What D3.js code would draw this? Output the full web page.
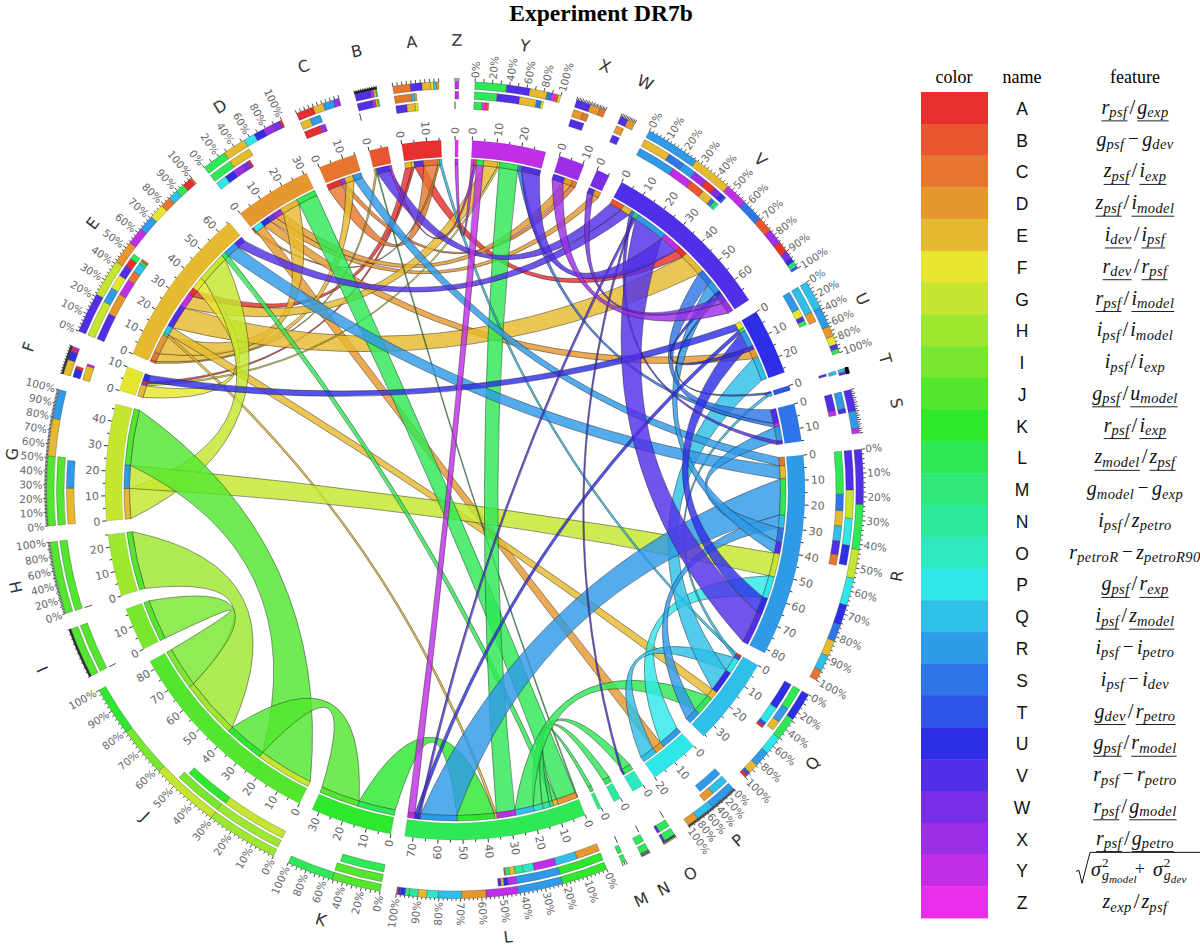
<!DOCTYPE html>
<html><head><meta charset="utf-8">
<script src="https://cdnjs.cloudflare.com/ajax/libs/d3/7.8.5/d3.min.js"></script>
<style>html,body{margin:0;padding:0;background:#fff}svg{display:block}</style></head>
<body><svg id="c" width="1200" height="946"></svg>
<script>
const sectors = "ABCDEFGHIJKLMNOPQRSTUVWXYZ".split("");
const colors = ["#e82e2e","#e8552e","#e6762e","#e6982e","#e6ba2e","#e6e62e","#c4e62e","#9ce82e","#78e82e","#52e62e","#2ee82e","#2ee856","#2ee87a","#2ee89c","#2ee8c0","#2ee8e8","#2ec0e8","#2e9ae8","#2e76e8","#2e54e8","#2e2ee8","#522ee8","#782ee8","#9c2ee8","#c02ee8","#e82ee8"];
const links = [
["A","E",3],["A","F",1],["A","V",4],
["C","A",6],["C","X",2],
["D","A",.8],["D","P",4],["D","U",3.6],["D","W",2.7],["D","X",3.5],
["E","B",.8],["E","C",3.7],["E","D",8],["E","L",1],["E","Q",3.5],["E","V",10],["E","Y",6],
["F","E",5.2],["F","Y",.8],
["G","E",13],["G","R",10],
["H","J",25],["I","J",17.5],
["J","G",24],["J","K",17],
["K","L",16],
["L","B",.4],["L","D",8.5],["L","E",2],["L","M",1.5],["L","N",3],["L","O",4],["L","Q",8],["L","Y",8],
["P","R",9.5],
["Q","A",1],["Q","T",1.2],["Q","P",6.5],["Q","U",10],
["R","C",3.7],["R","E",5.5],["R","L",15.5],["R","Q",5.5],["R","S",6],["R","V",5],
["S","V",6],["S","Y",1.7],
["T","V",.8],
["U","F",3],["U","L",1.5],["U","R",7],["U","V",1.6],
["V","B",5.5],["V","E",4],["V","S",1.5],["V","O",.8],["V","L",1],["V","R",14],["V","Y",8],
["W","V",2.7],["X","V",5],
["Y","Z",1.3],["Y","B",1],["Y","L",3]
];
const stripOrder = [
">E >F >V <C <D <Q","<E <L <V <Y",">A >X <E <R",">A >P >U >W >X <E <L",
">B >C >D >L >Q >V >Y <A <F <G <L <R <V",">E >Y <A <U",">E >R <J",">J",">J",
">G >K <H <I",">L <J",">B >D >E >M >N >O >Q >Y <E <K <R <V <U <Y","<L","<L","<L <V",
">R <D <Q",">A >T >P >U <E <L <R",">C >E >L >Q >S >V <G <P <U <V",">V >Y <R <V",">V <Q",
">F >L >R >V <D <Q",">B >E >S >O >L >R >Y <A <E <S <R <U <T <W <X",">V <D",">V <D <C",
">Z >B >L <E <F <L <S <V","<Y"];
const pctLabelStep = [0,0,0,20,10,0,10,20,0,10,20,10,0,0,0,20,20,10,0,0,20,10,0,0,20,0];
const pctTickStep = [10,2,10,10,2,2,1,2,1,2,5,2,50,10,5,1,5,2,5,1,5,2,10,5,10,50];
const swappedTracks = ["H","I"];
const features = [
"r_psf / g_exp","g_psf − g_dev","z_psf / i_exp","z_psf / i_model","i_dev / i_psf","r_dev / r_psf",
"r_psf / i_model","i_psf / i_model","i_psf / i_exp","g_psf / u_model","r_psf / i_exp","z_model / z_psf",
"g_model − g_exp","i_psf / z_petro","r_petroR − z_petroR90","g_psf / r_exp","i_psf / z_model","i_psf − i_petro",
"i_psf − i_dev","g_dev / r_petro","g_psf / r_model","r_psf − r_petro","r_psf / g_model","r_psf / g_petro","SQRT","z_exp / z_psf"];
const underlined = "ACDEFGJKLPQTUWX".split("");

const svg = d3.select("#c");
const cx=455, cy=490, R={bandOut:350,bandIn:333,footOut:331,footIn:325.5,t1:[401,408.5],t2:[391,398.5],t3:[381,388.5]};
const colorOf = d3.scaleOrdinal(sectors,colors);
const G = svg.append("g").attr("transform",`translate(${cx},${cy})`);
const deg = Math.PI/180, GAP = 2.29*deg;

const info = {};
sectors.forEach((s,i)=>{
  const strips = stripOrder[i].split(" ").map(t=>{
    const dir=t[0], o=t[1];
    const l = dir===">" ? links.find(d=>d[0]===s&&d[1]===o) : links.find(d=>d[0]===o&&d[1]===s);
    return {dir,partner:o,value:l[2],link:l};
  });
  info[s]={strips,size:d3.sum(strips,d=>d.value),index:i};
});
const total = d3.sum(sectors,s=>info[s].size);
const perUnit = (2*Math.PI-GAP*sectors.length)/total;
let cursor = 0;
[...sectors].reverse().forEach(s=>{
  const I = info[s];
  I.scale = d3.scaleLinear().domain([0,I.size]).range([cursor,cursor+I.size*perUnit]);
  let v=0;
  I.strips.forEach(st=>{ st.a0=I.scale(v); v+=st.value; st.a1=I.scale(v); });
  cursor += I.size*perUnit+GAP;
});

const arc = d3.arc();
const pt=(a,r)=>[r*Math.sin(a),-r*Math.cos(a)];
function ctrl(a,b){
  let d=b-a; while(d>Math.PI)d-=2*Math.PI; while(d<-Math.PI)d+=2*Math.PI;
  const mid=a+d/2, rc=183*Math.pow(Math.max(0,Math.cos(d/2)),1.2);
  return pt(mid,rc);
}
function ribbon(sa,sb){
  const r=R.footIn, p=d3.path();
  const A0=pt(sa.a0,r),B0=pt(sb.a0,r);
  const toC=a=>a-Math.PI/2;
  p.moveTo(...A0);
  p.arc(0,0,r,toC(sa.a0),toC(sa.a1));
  let c=ctrl(sa.a1,sb.a0); p.quadraticCurveTo(c[0],c[1],B0[0],B0[1]);
  p.arc(0,0,r,toC(sb.a0),toC(sb.a1));
  c=ctrl(sb.a1,sa.a0); p.quadraticCurveTo(c[0],c[1],A0[0],A0[1]);
  p.closePath();
  return p.toString();
}

const ribG=G.append("g");
links.forEach(l=>{
  const sa=info[l[0]].strips.find(d=>d.dir===">"&&d.partner===l[1]);
  const sb=info[l[1]].strips.find(d=>d.dir==="<"&&d.partner===l[0]);
  ribG.append("path").attr("d",ribbon(sa,sb)).attr("fill",colorOf(l[0])).attr("fill-opacity",.82)
    .attr("stroke","#222").attr("stroke-opacity",.65).attr("stroke-width",.7);
});

sectors.forEach((s,i)=>{
  const I=info[s], a0=I.scale.range()[0], a1=I.scale.range()[1];
  I.strips.forEach(st=>{
    G.append("path").attr("d",arc({innerRadius:R.footIn,outerRadius:R.footOut,startAngle:st.a0,endAngle:st.a1}))
      .attr("fill",colorOf(st.partner)).attr("stroke","#222").attr("stroke-opacity",.7).attr("stroke-width",.5);
  });
  G.append("path").attr("d",arc({innerRadius:R.bandIn,outerRadius:R.bandOut,startAngle:a0,endAngle:a1}))
    .attr("fill",colorOf(s)).attr("stroke","#000").attr("stroke-opacity",.18).attr("stroke-width",.5);
  d3.range(0,I.size+.001,5).forEach(v=>{
    const a=I.scale(v), major=v%10===0;
    const p0=pt(a,R.bandOut),p1=pt(a,R.bandOut+(major?4:2.5));
    G.append("line").attr("x1",p0[0]).attr("y1",p0[1]).attr("x2",p1[0]).attr("y2",p1[1]).attr("stroke","#000").attr("stroke-width",.8);
    if(major) radialText(a,R.bandOut+6,v,"11px");
  });
  const sum=(arr)=>Array.from(d3.rollup(arr,v=>d3.sum(v,d=>d.value),d=>d.partner),([partner,value])=>({partner,value})).sort((x,y)=>y.value-x.value);
  let inn=sum(I.strips.filter(d=>d.dir==="<")), out=sum(I.strips.filter(d=>d.dir===">"));
  if(swappedTracks.includes(s)) [inn,out]=[out,inn];
  track(sum(I.strips),R.t1,I,a0);
  track(inn,R.t2,I,a0);
  track(out,R.t3,I,a0);
  const pct=d3.scaleLinear().domain([0,100]).range([a0,a1]);
  d3.range(0,100.01,pctTickStep[i]).forEach(p=>{
    const a=pct(p), major=p%10===0;
    const q0=pt(a,R.t1[1]),q1=pt(a,R.t1[1]+(major?3.5:2.2));
    G.append("line").attr("x1",q0[0]).attr("y1",q0[1]).attr("x2",q1[0]).attr("y2",q1[1]).attr("stroke","#000").attr("stroke-width",.7);
  });
  if(pctLabelStep[i]) d3.range(0,100.01,pctLabelStep[i]).forEach(p=>radialText(pct(p),R.t1[1]+4,p+"%","10.5px"));
  const m=(a0+a1)/2, d=m/deg, p=pt(m,450), rot=(d>90&&d<270)?d-180:d;
  p[0]=Math.max(p[0],12-cx);
  G.append("text").attr("transform",`translate(${p[0]},${p[1]}) rotate(${rot})`).attr("text-anchor","middle").attr("dy",".36em")
    .attr("font-family","DejaVu Sans").attr("font-size","16px").attr("fill","#333").text(s);
});
function track(rows,rad,I,a0){
  let v=0;
  if(!rows.length){
    const p0=pt(a0,rad[0]),p1=pt(a0,rad[1]);
    G.append("line").attr("x1",p0[0]).attr("y1",p0[1]).attr("x2",p1[0]).attr("y2",p1[1]).attr("stroke","#333").attr("stroke-width",.9);
    return;
  }
  rows.forEach(r=>{
    const s0=I.scale(v); v+=r.value; const s1=I.scale(v);
    G.append("path").attr("d",arc({innerRadius:rad[0],outerRadius:rad[1],startAngle:s0,endAngle:s1}))
      .attr("fill",colorOf(r.partner)).attr("stroke","#222").attr("stroke-opacity",.55).attr("stroke-width",.5);
  });
}
function radialText(a,r,txt,size){
  const d=a/deg, left=d>180;
  G.append("text").attr("transform",left?`rotate(${d+90}) translate(${-r},0)`:`rotate(${d-90}) translate(${r},0)`)
    .attr("text-anchor",left?"end":"start").attr("dy",".36em").attr("font-family","DejaVu Sans").attr("font-size",size).attr("fill","#666").text(txt);
}

svg.append("text").attr("x",601).attr("y",21).attr("text-anchor","middle").attr("font-family","Liberation Serif").attr("font-weight","bold").attr("font-size","23.5px").text("Experiment DR7b");

const rowY=d3.scaleBand().domain(sectors).range([92,918]);
const leg=svg.append("g");
[["color",954],["name",1022],["feature",1135]].forEach(h=>leg.append("text").attr("x",h[1]).attr("y",83).attr("text-anchor","middle").attr("font-family","Liberation Serif").attr("font-size","18px").text(h[0]));
sectors.forEach((s,i)=>{
  leg.append("rect").attr("x",921).attr("y",rowY(s)).attr("width",67).attr("height",rowY.bandwidth()+.4).attr("fill",colorOf(s));
  const mid=rowY(s)+rowY.bandwidth()/2;
  leg.append("text").attr("x",1022).attr("y",mid+7).attr("text-anchor","middle").attr("font-family","Liberation Sans").attr("font-size","17.5px").attr("fill","#111").text(s);
  if(features[i]==="SQRT") sqrtFeature(mid); else feature(features[i],mid,underlined.includes(s));
});
function put(g,x,y,t,size,italic,ls){
  const n=g.append("text").attr("x",x).attr("y",y).attr("font-family","Liberation Serif").attr("font-size",size+"px").attr("font-style",italic?"italic":"normal").attr("letter-spacing",ls||0).attr("fill","#111").text(t);
  return n.node().getComputedTextLength();
}
function feature(str,mid,ul){
  const g=leg.append("g"); let x=0; const base=6;
  str.split(" ").forEach(tok=>{
    if(tok==="/"){ x+=2; x+=put(g,x,base,"/",21,false)+2; return; }
    if(tok==="−"){ x+=3.5; x+=put(g,x,base-1,"−",19,false)+3.5; return; }
    const [b,sub]=tok.split("_"), x0=x;
    x+=put(g,x,base,b,20,true);
    x+=put(g,x,base+3.5,sub,14.5,true,.4);
    if(ul) g.append("line").attr("x1",x0).attr("x2",x).attr("y1",base+7).attr("y2",base+7).attr("stroke","#222").attr("stroke-width",1);
  });
  g.attr("transform",`translate(${1135-x/2},${mid})`);
}
function sqrtFeature(mid){
  const g=leg.append("g").attr("transform",`translate(1076,${mid})`);
  g.append("path").attr("d","M0,1 L3,0 L6,13 L14,-18 H124").attr("fill","none").attr("stroke","#111").attr("stroke-width",1);
  const part=(x,sub,ssub)=>{
    let w=put(g,x,6,"σ",20,true);
    put(g,x+w+1,-3,"2",13,false);
    let w2=put(g,x+w+1,10,sub,14,true);
    let w3=put(g,x+w+1+w2,13,ssub,11,true,.2);
    return w+1+w2+w3;
  };
  let x=part(15,"g","model");
  x+=13; x+=put(g,x,5,"+",18,false)+8;
  part(x,"g","dev");
}
</script></body></html>
